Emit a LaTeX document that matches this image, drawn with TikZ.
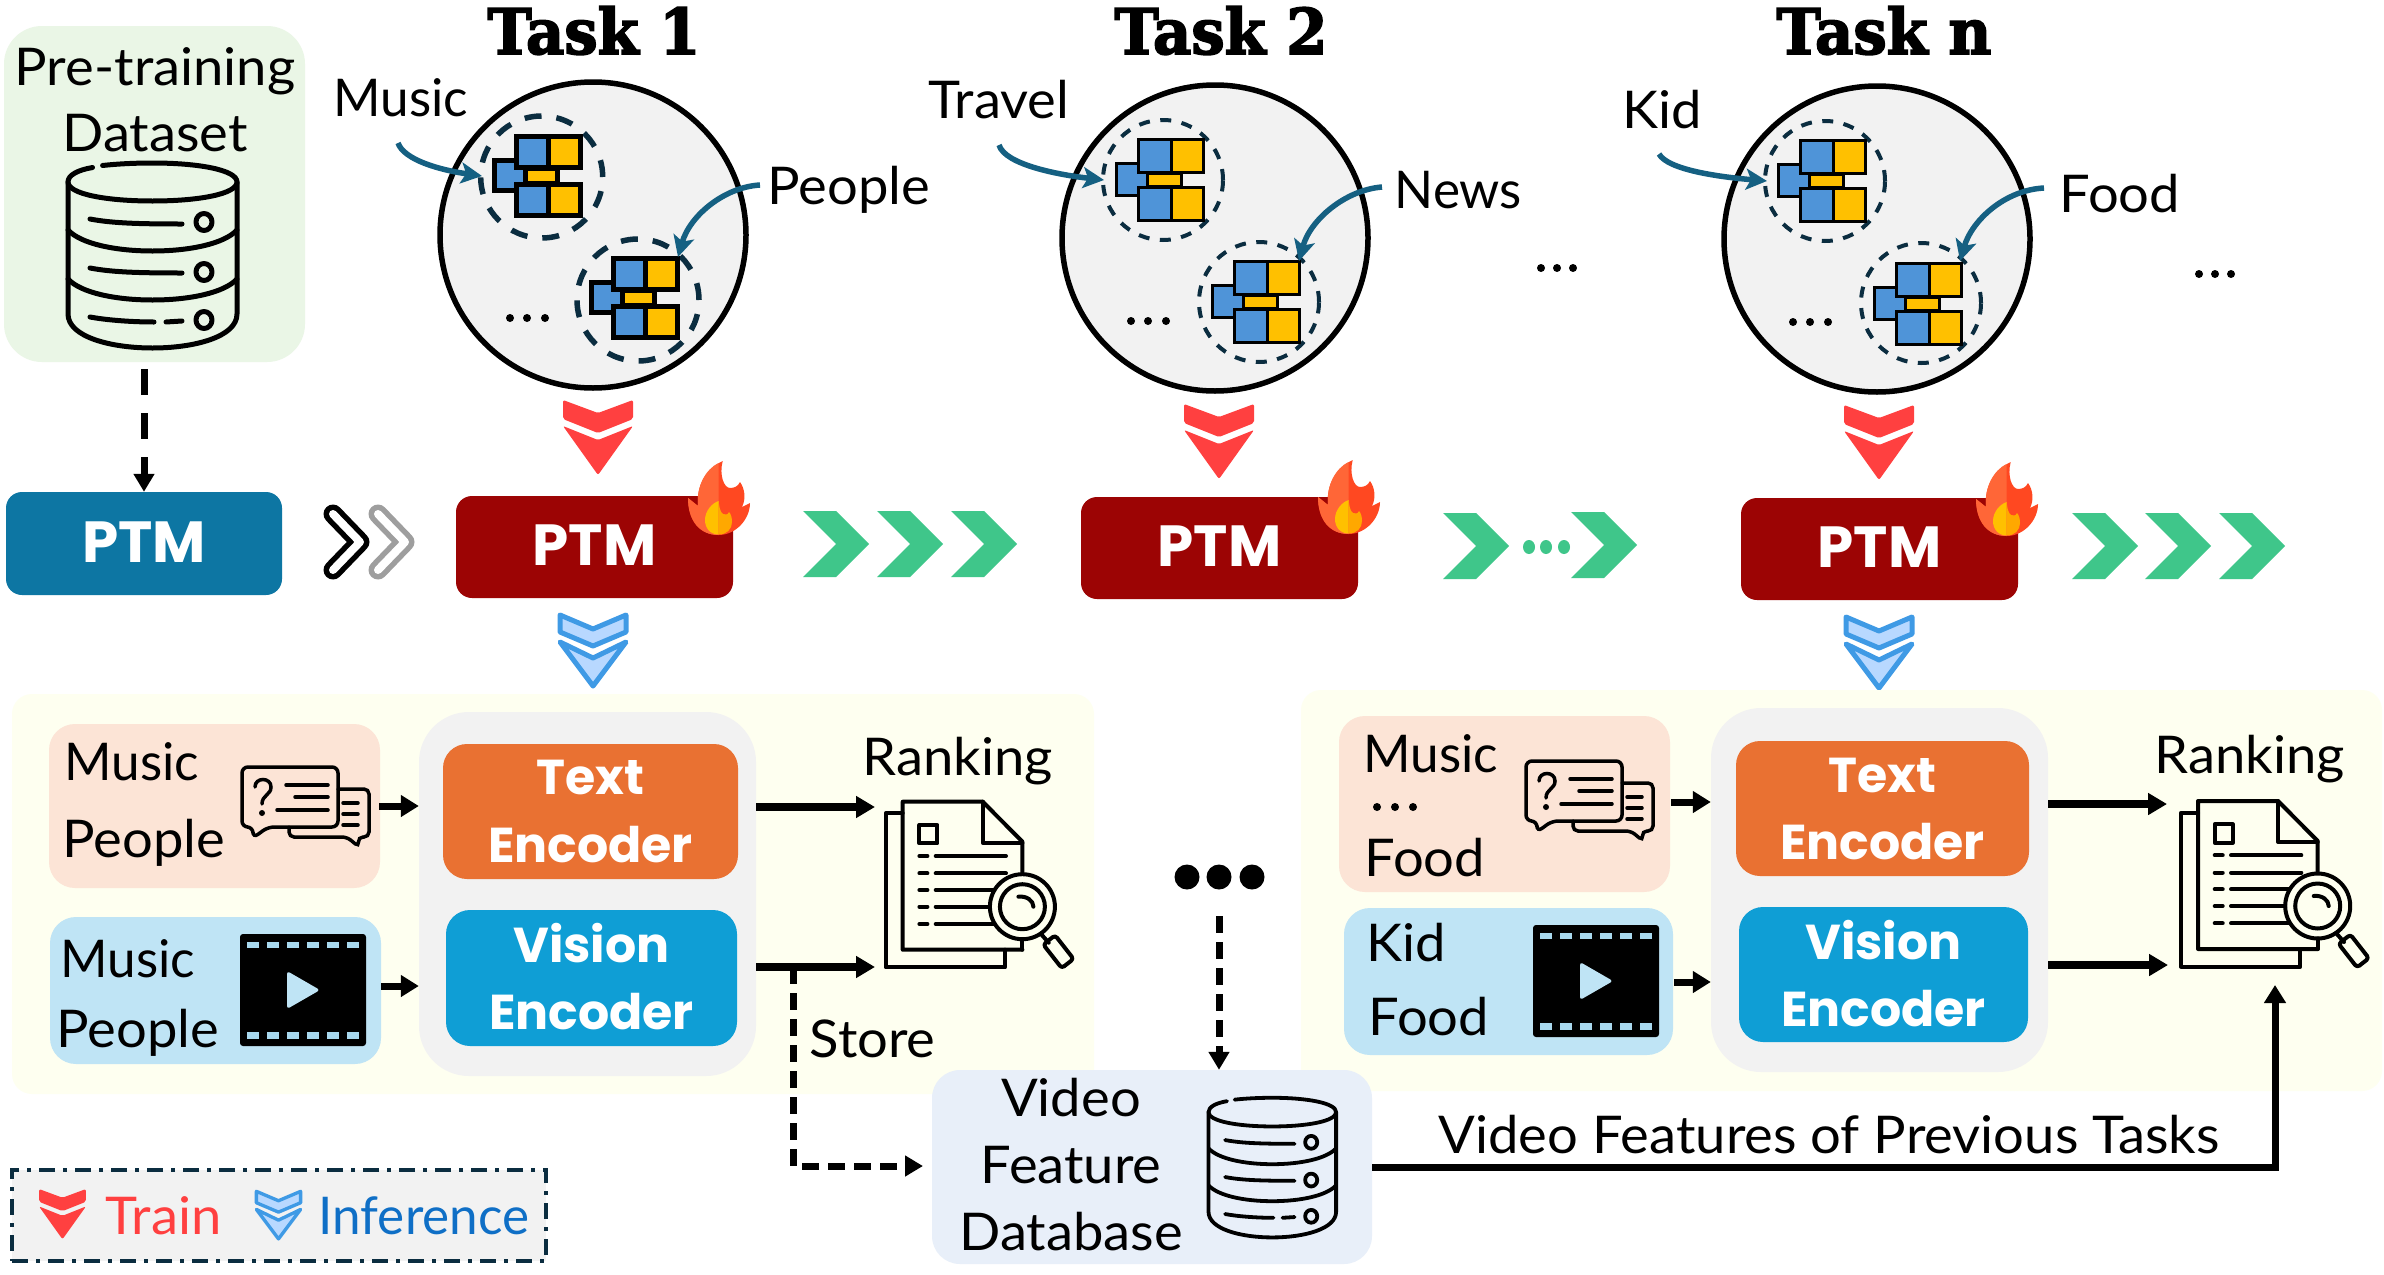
\documentclass[tikz,border=0pt]{standalone}
\usepackage{fontspec}
\usetikzlibrary{arrows.meta,calc}
\setmainfont{Lato}[FakeStretch=1.045]
\newfontface\narrowlab{Lato}[FakeStretch=0.985]
\newfontfamily\ptmfont{Poppins}
\newfontface\taskface{DejaVu Serif Bold}[FakeBold=2.6,FakeStretch=0.94]
\definecolor{greenbg}{HTML}{EAF6E6}
\definecolor{ptmblue}{HTML}{0D76A3}
\definecolor{ptmred}{HTML}{9C0404}
\definecolor{greybg}{HTML}{F2F2F2}
\definecolor{teal}{HTML}{156082}
\definecolor{navy}{HTML}{0B2D40}
\definecolor{cellblue}{HTML}{4F94D8}
\definecolor{cellyel}{HTML}{FFC000}
\definecolor{chevred}{HTML}{FF4040}
\definecolor{chevst}{HTML}{3F9AE5}
\definecolor{chevfl}{HTML}{B8D8FF}
\definecolor{chevgreen}{HTML}{3FC68A}
\definecolor{panelbg}{HTML}{FEFFF0}
\definecolor{pinkbg}{HTML}{FCE4D6}
\definecolor{skybg}{HTML}{BFE4F5}
\definecolor{skyblk}{HTML}{A8D8EE}
\definecolor{encor}{HTML}{E97132}
\definecolor{encbl}{HTML}{0F9ED5}
\definecolor{dbbg}{HTML}{E8EFF9}
\definecolor{infblue}{HTML}{0F6FC6}
\newcommand{\labfont}{\fontsize{52}{66}\selectfont}
\newcommand{\dbicon}[4]{%
\begin{scope}[shift={(#1,#2)},scale=#3,line width=#4,line cap=round,line join=round]
\draw (26.5,5.5) .. controls (12,8) and (2,13) .. (2,20) .. controls (2,32) and (40,39) .. (86.5,39) .. controls (133,39) and (171,32) .. (171,20) .. controls (171,8) and (133,1) .. (86.5,1) .. controls (68,1) and (50,2) .. (36.6,3.5);
\draw (2,20) -- (2,152) .. controls (2,175) and (45,186) .. (86.5,186) .. controls (128,186) and (171,175) .. (171,152) -- (171,20);
\foreach \dy in {0,49}{
\draw (2,68+\dy) .. controls (15,82+\dy) and (50,89+\dy) .. (86.5,89+\dy) .. controls (123,89+\dy) and (158,82+\dy) .. (171,68+\dy);}
\draw (24,57) .. controls (45,61) and (70,62) .. (116,62);
\draw (24,106) .. controls (45,110) and (70,111) .. (116,111);
\draw (24,155) .. controls (40,158) and (65,160) .. (88,160);
\draw (100,160) -- (116,159);
\foreach \cy in {60,110,158}{\draw (138,\cy) ellipse [x radius=8,y radius=8.5];}
\end{scope}}
\newcommand{\modicon}[3]{%
\begin{scope}[shift={(#1,#2)}]
\fill[black] (0,24) rectangle (31,59);
\fill[cellblue] (#3,24+#3) rectangle (31,59-#3);
\fill[black] (21.7,0) rectangle (90.3,36);
\fill[cellblue] (21.7+#3,#3) rectangle (56-0.5*#3,36-#3);
\fill[cellyel] (56+0.5*#3,#3) rectangle (90.3-#3,36-#3);
\fill[black] (21.7,48) rectangle (90.3,84);
\fill[cellblue] (21.7+#3,48+#3) rectangle (56-0.5*#3,84-#3);
\fill[cellyel] (56+0.5*#3,48+#3) rectangle (90.3-#3,84-#3);
\fill[black] (31,36) rectangle (68,48);
\fill[cellyel] (31+#3,37) rectangle (68-#3,47);
\end{scope}}
\newcommand{\fireicon}[2]{%
\begin{scope}[shift={(#1,#2)}]
\fill[fill={rgb,255:red,255;green,72;blue,33}] (30.5,74) .. controls (12,74) and (0,60) .. (0,37) -- (10,45) .. controls (8,25) and (18,8) .. (34.7,0) .. controls (31,14) and (36,27) .. (42,27) .. controls (47,27) and (50,25) .. (52,21) .. controls (57,28) and (58,38) .. (54,46) -- (62,42) .. controls (62,58) and (48,74) .. (30.5,74) -- cycle;
\fill[fill={rgb,255:red,255;green,102;blue,55}] (30.5,74) .. controls (12,74) and (0,60) .. (0,37) -- (10,45) .. controls (8,25) and (18,8) .. (30.5,2) -- cycle;
\fill[cellyel] (30.7,73.5) .. controls (22,73.5) and (17,67) .. (17,59) .. controls (17,50) and (24,42) .. (30.7,40) -- cycle;
\fill[fill={rgb,255:red,255;green,168;blue,0}] (30.7,73.5) .. controls (39,73.5) and (44,68) .. (44,61) .. controls (44,57) and (43,53) .. (41,51) .. controls (40,54) and (37,54) .. (35,53) .. controls (32,51) and (31,45) .. (30.7,40) -- cycle;
\end{scope}}
\newcommand{\redchev}[3]{%
\begin{scope}[shift={(#1,#2)},scale=#3]
\fill[chevred,rounded corners=2pt] (-35,0) -- (0,13) -- (35,0) -- (35,19) -- (0,33) -- (-35,19) -- cycle;
\fill[chevred,rounded corners=2pt] (-35,26) -- (0,40) -- (35,26) -- (0,75) -- cycle;
\end{scope}}
\newcommand{\bluechev}[3]{%
\begin{scope}[shift={(#1,#2)},scale=#3]
\filldraw[draw=chevst,fill=chevfl,line width=#3*5pt,line join=round] (-33,2) -- (0,16) -- (33,2) -- (33,19) -- (0,33) -- (-33,19) -- cycle;
\filldraw[draw=chevst,fill=chevfl,line width=#3*5pt,line join=round] (-33,29) -- (0,45) -- (33,29) -- (0,73) -- cycle;
\end{scope}}
\newcommand{\greenchev}[2]{%
\fill[chevgreen,shift={(#1,#2)}] (0,0) -- (33,0) -- (66,33) -- (33,66) -- (0,66) -- (33,33) -- cycle;}
\newcommand{\chaticon}[2]{%
\begin{scope}[shift={(#1,#2)},line width=3.5pt,line cap=round]
\draw[rounded corners=5pt] (47,60) -- (47,70) -- (105,70) -- (117,80) -- (116,70) -- (127,70) -- (127,22) -- (96,22);
\draw[rounded corners=6pt] (0,0) -- (96,0) -- (96,60) -- (26,60) -- (11,71) -- (11,60) -- (0,60) -- cycle;
\draw (44,18) -- (86,18); \draw (53,30) -- (86,30); \draw (35,43) -- (86,43);
\draw (101,36) -- (116,36); \draw (101,47) -- (116,47); \draw (101,58) -- (116,58);
\draw (13,20) .. controls (13,10) and (29,10) .. (29,20) .. controls (29,28) and (20,28) .. (20,37);
\fill (20,46) ellipse [x radius=3,y radius=3];
\end{scope}}
\newcommand{\videoicon}[2]{%
\begin{scope}[shift={(#1,#2)}]
\fill[black,rounded corners=3pt] (0,0) rectangle (126,112);
\foreach \bx in {7,27,47,67,87,107}{
\fill[skyblk] (\bx,8) rectangle (\bx+12,14);
\fill[skyblk] (\bx,98) rectangle (\bx+12,105);}
\fill[skybg,rounded corners=3pt] (47,37) -- (80,56) -- (47,75) -- cycle;
\end{scope}}
\newcommand{\rankicon}[2]{%
\begin{scope}[shift={(#1,#2)},line width=4pt,line cap=round,line join=round]
\draw (17,11.7) -- (0,11.7) -- (0,165.7) -- (119.3,165.7) -- (119.3,148);
\draw (136.7,148) -- (17,148) -- (17,0) -- (97,0) -- (136.7,40) -- (136.7,80);
\draw (97,0) -- (97,41) -- (136.7,41);
\draw (33.7,23.3) rectangle (51.7,41.7);
\foreach \ly/\lx in {54.3/120.3,71.7/120.3,88.3/112,105/104,122.3/110}{
\draw (33.7,\ly) -- (41.7,\ly); \draw (50,\ly) -- (\lx,\ly);}
\draw[fill=panelbg] (136.7,105) ellipse [x radius=32.5,y radius=32.5];
\draw (136.7,105) ellipse [x radius=22.5,y radius=22.5];
\draw (132.7,95) .. controls (141,94) and (147.7,99) .. (147.7,105);
\draw (136.7,137.5) -- (136.7,148);
\draw (155,132) -- (163,141);
\draw[rounded corners=3pt,shift={(172.7,150)},rotate=-52] (-15,-7.5) rectangle (15,7.5);
\end{scope}}
\newcommand{\smalldots}[4]{% x1 x2 x3 y
\foreach \dx in {#1,#2,#3}{\fill[black] (\dx,#4) ellipse [x radius=4,y radius=4];}}
\tikzset{
 lab/.style={anchor=base west,inner sep=0pt,xshift=-2.5pt,font=\labfont},
 labn/.style={lab,font=\narrowlab\labfont},
 title/.style={anchor=base,inner sep=0pt,font=\taskface\fontsize{63}{63}\selectfont},
 rbox/.style={rectangle,inner sep=0pt,align=center},
 ptmbox/.style={rbox,rounded corners=16pt,minimum width=277pt,minimum height=102pt,text=white,font=\ptmfont\bfseries\fontsize{58}{58}\selectfont},
 encbox/.style={rbox,rounded corners=24pt,text=white,font=\ptmfont\bfseries\fontsize{49}{67}\selectfont},
 teal arrow/.style={teal,line width=5.5pt,-{Stealth[length=21pt,width=21pt,inset=5pt]}},
 solid arrow/.style={black,line width=8pt,-{Triangle[length=19pt,width=21pt]}},
 thin arrow/.style={black,line width=7pt,-{Triangle[length=18pt,width=21pt]}},
 dash arrow/.style={black,line width=7pt,dash pattern=on 17pt off 9pt,-{Triangle[length=18pt,width=20pt]}},
 long dash arrow/.style={black,line width=7pt,dash pattern=on 26pt off 18pt,-{Triangle[length=18pt,width=20pt]}},
 disc/.style={fill=greybg,draw=black,line width=5.5pt},
 ring thick/.style={draw=navy,line width=5.5pt,dash pattern=on 17pt off 15pt},
 ring thin/.style={draw=navy,line width=4pt,dash pattern=on 11pt off 10.5pt},
}
\begin{document}
\begin{tikzpicture}[x=1pt,y=-1pt]
\useasboundingbox (0,0) rectangle (2384,1274);
\fill[white] (0,0) rectangle (2384,1274);
% pre-training
\node[rbox,fill=greenbg,rounded corners=38pt,minimum width=301pt,minimum height=336pt] (pretrain) at (154.5,194) {};
\node[inner sep=0pt,align=center,font=\fontsize{52}{66}\selectfont] (pretext) at (155,100) {Pre-training\\Dataset};
\dbicon{66}{162}{1}{5pt}
\node[ptmbox,fill=ptmblue,minimum width=276pt,minimum height=103pt] (ptm0) at (144,543.5) {\raisebox{2pt}{PTM}};
\draw[long dash arrow] ($(ptm0.north |- pretrain.south)+(0,7)$) -- (ptm0.north);
% black and grey chevrons
\foreach \cx/\cc in {0/black,45/black!38}{
\draw[\cc,line width=19pt,line cap=round,line join=round,shift={(\cx,0)}] (333,514) -- (360,542) -- (333,570);
\draw[white,line width=8pt,line cap=round,line join=round,shift={(\cx,0)}] (333,514) -- (360,542) -- (333,570);}
% titles
\node[title] (t1) at (594,54) {Task 1};
\node[title] (t2) at (1221,54) {Task 2};
\node[title] (tn) at (1884,54) {Task n};
% discs
\node[circle,disc,minimum size=306pt,inner sep=0pt] (c1) at (593,235) {};
\node[circle,disc,minimum size=306pt,inner sep=0pt] (c2) at (1215,238) {};
\node[circle,disc,minimum size=306pt,inner sep=0pt] (c3) at (1877,239) {};
% task 1 inner
\node[circle,ring thick,minimum size=122pt,inner sep=0pt] (d11) at (541.7,177) {};
\node[circle,ring thick,minimum size=122pt,inner sep=0pt] (d12) at (638,300) {};
\modicon{492.3}{134}{5}
\modicon{589.3}{256}{5}
\smalldots{510}{527}{545}{318}
% task 2 inner
\node[circle,ring thin,minimum size=120pt,inner sep=0pt] (d21) at (1163,180) {};
\node[circle,ring thin,minimum size=120pt,inner sep=0pt] (d22) at (1259,302) {};
\modicon{1115}{138}{3}
\modicon{1211}{260}{3}
\smalldots{1131}{1148}{1166}{321}
% task n inner
\node[circle,ring thin,minimum size=120pt,inner sep=0pt] (d31) at (1825,181) {};
\node[circle,ring thin,minimum size=120pt,inner sep=0pt] (d32) at (1921,303) {};
\modicon{1777}{139}{3}
\modicon{1873}{262}{3}
\smalldots{1793}{1810}{1828}{322}
% topic labels
\node[labn] (music1) at (336,116) {Music};
\node[lab] (people1) at (770,204) {People};
\node[lab] (travel) at (931,118) {Travel};
\node[labn] (news) at (1397,208) {News};
\node[lab] (kid) at (1625,128) {Kid};
\node[lab] (food) at (2062,212) {Food};
\coordinate (a1s) at (398,143); \coordinate (a1e) at (482,176);
\coordinate (a2s) at (760,185); \coordinate (a2e) at (678,257);
\coordinate (a3s) at (999,145); \coordinate (a3e) at (1104,180);
\coordinate (a4s) at (1382,187); \coordinate (a4e) at (1299,261);
\coordinate (a5s) at (1659,154); \coordinate (a5e) at (1767,181);
\coordinate (a6s) at (2044,188); \coordinate (a6e) at (1960,261);
\draw[teal arrow] (a1s) .. controls (404,160) and (440,170) .. (a1e);
\draw[teal arrow] (a2s) .. controls (725,187) and (690,215) .. (a2e);
\draw[teal arrow] (a3s) .. controls (1005,165) and (1060,175) .. (a3e);
\draw[teal arrow] (a4s) .. controls (1345,190) and (1310,220) .. (a4e);
\draw[teal arrow] (a5s) .. controls (1668,170) and (1720,177) .. (a5e);
\draw[teal arrow] (a6s) .. controls (2005,190) and (1972,220) .. (a6e);
% train chevrons
\redchev{598}{400}{1}
\redchev{1219}{404}{1}
\redchev{1879}{405}{1}
% PTM boxes
\node[ptmbox,fill=ptmred] (ptm1) at (594.5,547) {\raisebox{3pt}{PTM}};
\node[ptmbox,fill=ptmred] (ptm2) at (1219.5,548) {\raisebox{3pt}{PTM}};
\node[ptmbox,fill=ptmred] (ptm3) at (1879.5,549) {\raisebox{3pt}{PTM}};
\fireicon{688}{461}
\fireicon{1318}{460}
\fireicon{1976}{462}
% green chevrons
\foreach \gx in {803,877,951}{\greenchev{\gx}{511}}
\greenchev{1443}{513}
\greenchev{1571}{512}
\foreach \gx in {1529,1546,1564}{\fill[chevgreen] (\gx,547) ellipse [x radius=6,y radius=7];}
\foreach \gx in {2072,2145,2219}{\greenchev{\gx}{513}}
\smalldots{1541}{1557}{1573}{268}
\smalldots{2199}{2215}{2231}{274}
% inference chevrons
\bluechev{593}{613}{1}
\bluechev{1879}{615}{1}
% left panel
\node[rbox,fill=panelbg,rounded corners=20pt,minimum width=1082pt,minimum height=400pt] (lpanel) at (553,894) {};
\node[rbox,fill=pinkbg,rounded corners=26pt,minimum width=331pt,minimum height=164pt] (lpink) at (214.5,806) {};
\node[rbox,fill=skybg,rounded corners=26pt,minimum width=331pt,minimum height=147pt] (lsky) at (215.5,990.5) {};
\node[rbox,fill=greybg,rounded corners=50pt,minimum width=337pt,minimum height=364pt] (lgrey) at (587.5,894) {};
\node[encbox,fill=encor,minimum width=295pt,minimum height=135pt] (ltext) at (590.5,811.5) {\raisebox{1pt}{Text}\\Encoder};
\node[encbox,fill=encbl,minimum width=291pt,minimum height=136pt] (lvis) at (591.5,978) {\raisebox{3pt}{Vision}\\\raisebox{3pt}{Encoder}};
\node[labn] (lm1) at (67,780) {Music};
\node[lab] (lp1) at (65,857) {People};
\node[labn] (lm2) at (63,977) {Music};
\node[lab] (lp2) at (59,1047) {People};
\chaticon{242}{767}
\videoicon{240}{934}
\rankicon{885.7}{801.7}
\node[lab] (lrank) at (865,775) {Ranking};
\node[lab] (store) at (812,1057) {Store};
\coordinate (l1) at (379,806); \coordinate (l2) at (381,986);
\draw[thin arrow] (l1) -- (lgrey.west |- l1);
\draw[thin arrow] (l2) -- (lgrey.west |- l2);
\coordinate (lr1) at (875,807); \coordinate (lr2) at (875,967);
\draw[solid arrow] (lgrey.east |- lr1) -- (lr1);
\draw[solid arrow] (lgrey.east |- lr2) -- (lr2);
% right panel
\node[rbox,fill=panelbg,rounded corners=20pt,minimum width=1081pt,minimum height=401pt] (rpanel) at (1841.5,890.5) {};
\node[rbox,fill=pinkbg,rounded corners=26pt,minimum width=331pt,minimum height=176pt] (rpink) at (1504.5,804) {};
\node[rbox,fill=skybg,rounded corners=26pt,minimum width=329pt,minimum height=147pt] (rsky) at (1508.5,981.5) {};
\node[rbox,fill=greybg,rounded corners=50pt,minimum width=337pt,minimum height=364pt] (rgrey) at (1879.5,890) {};
\node[encbox,fill=encor,minimum width=293pt,minimum height=135pt] (rtext) at (1882.5,808.5) {Text\\Encoder};
\node[encbox,fill=encbl,minimum width=289pt,minimum height=135pt] (rvis) at (1883.5,974.5) {\raisebox{3pt}{Vision}\\\raisebox{3pt}{Encoder}};
\node[labn] (rm1) at (1366,772) {Music};
\smalldots{1377}{1395}{1413}{807}
\node[lab] (rf1) at (1367,876) {Food};
\node[lab] (rk) at (1369,961) {Kid};
\node[lab] (rf2) at (1371,1035) {Food};
\chaticon{1526}{761}
\videoicon{1533}{925}
\rankicon{2181}{801}
\node[lab] (rrank) at (2157,773) {Ranking};
\coordinate (r1) at (1671,802); \coordinate (r2) at (1674,982);
\draw[thin arrow] (r1) -- (rgrey.west |- r1);
\draw[thin arrow] (r2) -- (rgrey.west |- r2);
\coordinate (rr1) at (2167,804); \coordinate (rr2) at (2168,965);
\draw[solid arrow] (rgrey.east |- rr1) -- (rr1);
\draw[solid arrow] (rgrey.east |- rr2) -- (rr2);
% database
\node[rbox,fill=dbbg,rounded corners=28pt,minimum width=440pt,minimum height=194pt] (dbbox) at (1152,1167) {};
\node[inner sep=0pt,align=center,font=\fontsize{52}{67}\selectfont] (dbtext) at (1071,1165) {Video\\Feature\\Database};
\dbicon{1207}{1097}{0.755}{3.8pt}
\coordinate (dotsc) at (1219,877);
\foreach \dx in {1187,1219,1252}{\fill[black] (\dx,877) ellipse [x radius=12.5,y radius=12.5];}
\coordinate (dl) at (1219,916);
\draw[dash arrow] (dl) -- (dotsc |- dbbox.north);
\coordinate (st) at (793,967); \coordinate (dbin) at (923,1166);
\draw[dash arrow] (st) |- (dbin);
\coordinate (vf) at (2275,985);
\draw[thin arrow] (dbbox.east) -| (vf);
\node[lab] (vflabel) at (1441,1153) {Video Features of Previous Tasks};
% legend
\node[rbox,fill=greybg,draw=navy,line width=3.5pt,dash pattern=on 16pt off 8pt on 4pt off 8pt,minimum width=534pt,minimum height=91pt] (legend) at (279,1215.5) {};
\redchev{62.5}{1189}{0.67}
\bluechev{278.5}{1190}{0.67}
\node[lab,text=chevred] (train) at (108,1234) {Train};
\node[labn,text=infblue] (infer) at (321,1234) {Inference};
\end{tikzpicture}
\end{document}
